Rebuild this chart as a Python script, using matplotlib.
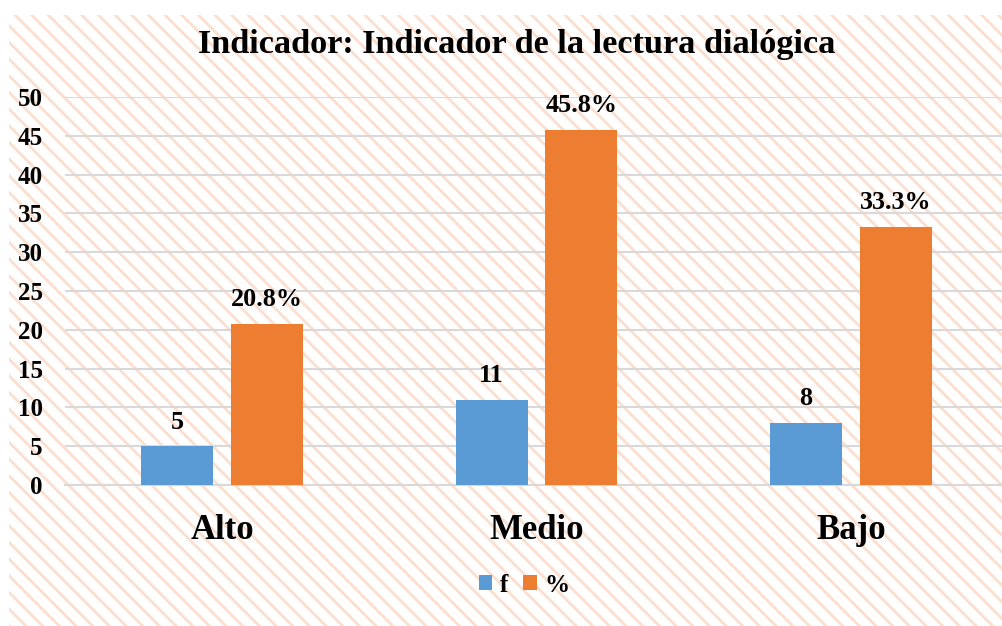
import matplotlib
matplotlib.use('Agg')
import matplotlib.pyplot as plt
import numpy as np
from matplotlib.patches import Rectangle

# Data
categories = ['Alto', 'Medio', 'Bajo']
freq = [5, 11, 8]
percent = [20.8, 45.8, 33.3]
freq_labels = ['5', '11', '8']
percent_labels = ['20.8%', '45.8%', '33.3%']
y_ticks = [0, 5, 10, 15, 20, 25, 30, 35, 40, 45, 50]

plt.rcParams['font.family'] = ['Liberation Serif', 'DejaVu Serif']
plt.rcParams['font.weight'] = 'bold'
plt.rcParams['hatch.linewidth'] = 2.0

blue = '#5B9BD5'
orange = '#ED7D31'
grid_color = '#D9D9D9'
hatch_color = '#FBDFCF'

fig = plt.figure(figsize=(10.03, 6.26), dpi=100)

# Hatched chart area background
bg = Rectangle((9 / 1003, 0), 1.0, 1 - 15 / 626, transform=fig.transFigure,
               facecolor='white', edgecolor=hatch_color, linewidth=0,
               hatch='\\\\', zorder=0)
fig.patches.append(bg)

ax = fig.add_axes([65 / 1003, 1 - 485 / 626, (1008 - 65) / 1003, (485 - 97) / 626])
ax.set_facecolor('none')
ax.set_zorder(1)

x = np.arange(len(categories))
width = 0.229
offset = 0.143

bars_f = ax.bar(x - offset, freq, width, color=blue, label='f', zorder=3)
bars_p = ax.bar(x + offset, percent, width, color=orange, label='%', zorder=3)

for bar, lab in zip(bars_f, freq_labels):
    ax.annotate(lab, (bar.get_x() + bar.get_width() / 2, bar.get_height()),
                xytext=(0, 9), textcoords='offset points', ha='center', va='bottom',
                fontsize=18.8, fontweight='bold')
for bar, lab in zip(bars_p, percent_labels):
    ax.annotate(lab, (bar.get_x() + bar.get_width() / 2, bar.get_height()),
                xytext=(0, 9), textcoords='offset points', ha='center', va='bottom',
                fontsize=18.8, fontweight='bold')

ax.set_xlim(-0.5, 2.5)
ax.set_ylim(0, 50)
ax.set_yticks(y_ticks)
ax.set_xticks(x)
ax.set_xticklabels(categories, fontsize=25, fontweight='bold')
ax.tick_params(axis='y', length=0, pad=16, labelsize=18)
ax.tick_params(axis='x', length=0, pad=21)
for lbl in ax.get_yticklabels():
    lbl.set_fontweight('bold')

ax.grid(axis='y', color=grid_color, linewidth=1.5, zorder=1)
for side in ['top', 'right', 'left']:
    ax.spines[side].set_visible(False)
ax.spines['bottom'].set_color(grid_color)
ax.spines['bottom'].set_linewidth(1.5)

fig.text(517 / 1003, 1 - 45 / 626, 'Indicador: Indicador de la lectura dialógica',
         ha='center', va='center', fontsize=24.7, fontweight='bold')

fig.legend(loc='center', bbox_to_anchor=(524 / 1003, 1 - 585 / 626), ncol=2,
           frameon=False, handlelength=0.55, handleheight=0.55,
           handletextpad=0.3, columnspacing=0.6, prop={'weight': 'bold', 'size': 18})

fig.savefig('out.png', dpi=100)
